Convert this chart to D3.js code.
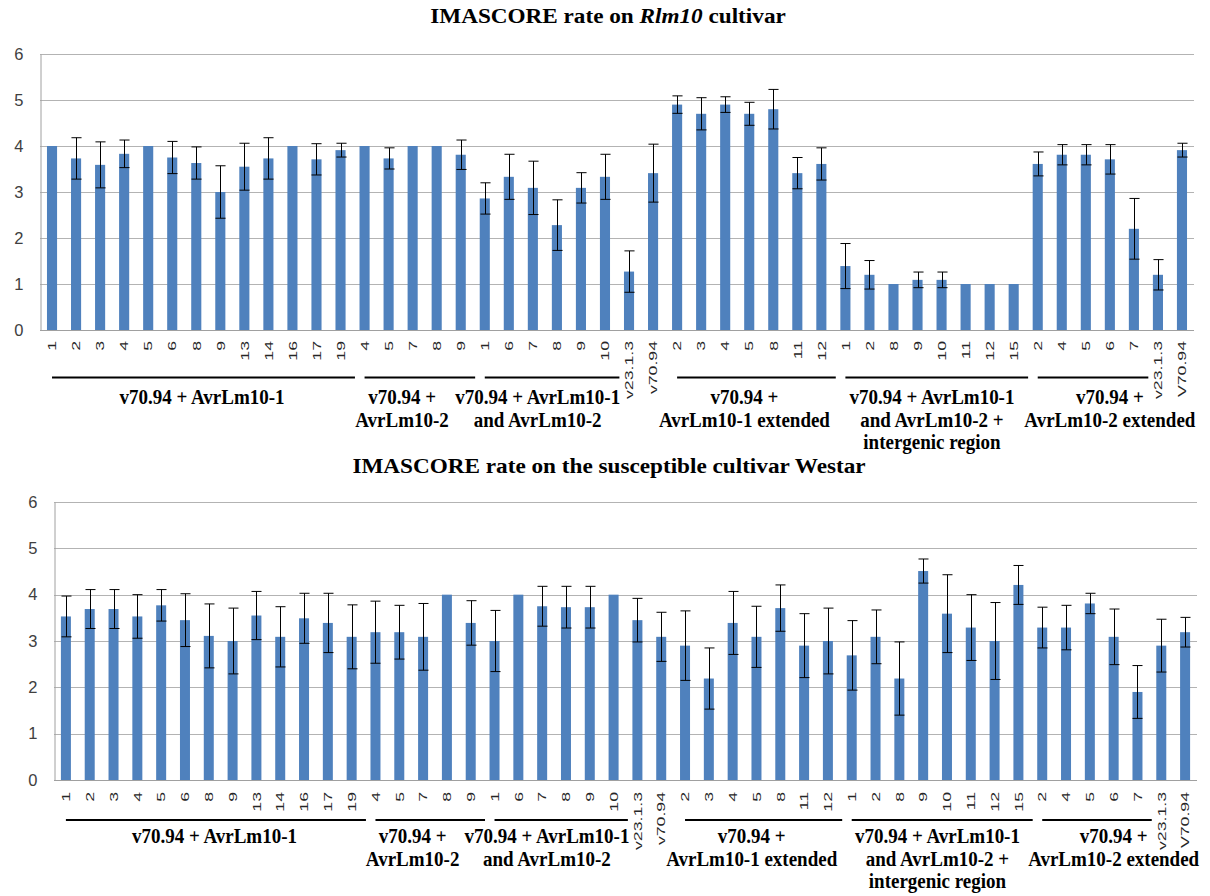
<!DOCTYPE html>
<html>
<head>
<meta charset="utf-8">
<script src="https://cdn.jsdelivr.net/npm/d3@7"></script>
<style>
  html, body { margin: 0; padding: 0; background: #fff; }
  svg { display: block; }
</style>
</head>
<body>
<svg id="chart" width="1210" height="896"></svg>
<script>
// ---------- DATA ----------
const categories = ["1","2","3","4","5","6","8","9","13","14","16","17","19",
  "4","5","7","8","9",
  "1","6","7","8","9","10",
  "v23.1.3","v70.94",
  "2","3","4","5","8","11","12",
  "1","2","8","9","10","11","12","15",
  "2","4","5","6","7",
  "v23.1.3","V70.94"];

const rlm10Values = [4.0,3.73,3.59,3.83,4.0,3.75,3.63,3.0,3.55,3.73,4.0,3.71,3.91,
  4.0,3.73,4.0,4.0,3.81,
  2.86,3.33,3.09,2.28,3.09,3.33,
  1.27,3.41,
  4.9,4.7,4.9,4.7,4.8,3.41,3.61,
  1.39,1.2,1.0,1.09,1.09,1.0,1.0,1.0,
  3.61,3.81,3.81,3.71,2.2,
  1.2,3.91];
const rlm10Errors = [0,0.45,0.5,0.3,0,0.35,0.35,0.57,0.51,0.45,0,0.34,0.15,
  0,0.23,0,0,0.32,
  0.34,0.49,0.58,0.55,0.33,0.49,
  0.45,0.63,
  0.19,0.35,0.17,0.25,0.43,0.34,0.35,
  0.49,0.31,0,0.17,0.17,0,0,0,
  0.26,0.22,0.22,0.32,0.66,
  0.33,0.15];

const westarValues = [3.53,3.69,3.69,3.53,3.77,3.45,3.11,3.0,3.55,3.09,3.49,3.39,3.09,
  3.19,3.19,3.09,4.0,3.39,
  3.0,4.0,3.75,3.73,3.73,4.0,
  3.45,3.09,
  2.9,2.19,3.39,3.09,3.71,2.9,3.0,
  2.69,3.09,2.19,4.51,3.59,3.29,3.0,4.21,
  3.29,3.29,3.81,3.09,1.9,
  2.9,3.19];
const westarErrors = [0.44,0.42,0.42,0.47,0.34,0.57,0.69,0.71,0.52,0.65,0.54,0.64,0.69,
  0.67,0.58,0.72,0,0.48,
  0.66,0,0.43,0.45,0.45,0,
  0.47,0.53,
  0.75,0.66,0.68,0.66,0.5,0.69,0.71,
  0.75,0.58,0.79,0.26,0.84,0.71,0.83,0.42,
  0.44,0.48,0.22,0.6,0.57,
  0.57,0.32];

const yTicks = [0,1,2,3,4,5,6];

const groupLabels = [
  ["v70.94 + AvrLm10-1"],
  ["v70.94 +", "AvrLm10-2"],
  ["v70.94 + AvrLm10-1", "and AvrLm10-2"],
  ["v70.94 +", "AvrLm10-1 extended"],
  ["v70.94 + AvrLm10-1", "and AvrLm10-2 +", "intergenic region"],
  ["v70.94 +", "AvrLm10-2 extended"]
];
const groupFirst = [0, 13, 18, 26, 33, 41];
const groupLast  = [12, 17, 23, 32, 40, 45];
// label centre, in category units from the left edge of the plot
const groupLabelPos = [6.74, 15.06, 20.7, 29.3, 37.1, 44.5];

// ---------- DRAW ----------
const svg = d3.select("#chart");
svg.append("rect").attr("width",1210).attr("height",896).attr("fill","#fff");

const SERIF = "'Liberation Serif', 'Times New Roman', serif";
const SANS = "'Liberation Sans', Arial, sans-serif";

function drawChart(cfg) {
  const g = svg.append("g");
  const x = d3.scaleBand().domain(d3.range(categories.length))
      .range([cfg.left, cfg.right]).paddingInner(0.58).paddingOuter(0.29);
  const bw = (cfg.right - cfg.left) / categories.length;
  const y = d3.scaleLinear().domain([0, 6]).range([cfg.bottom, cfg.top]);
  const xPos = v => cfg.left + v * bw;

  // gridlines
  g.append("g").selectAll("line").data(yTicks.filter(d => d > 0)).join("line")
    .attr("x1", cfg.left).attr("x2", cfg.right)
    .attr("y1", d => Math.round(y(d)) + 0.5).attr("y2", d => Math.round(y(d)) + 0.5)
    .attr("stroke", "#b3b3b3").attr("stroke-width", 1);

  // y axis
  const yAxis = d3.axisLeft(y).tickValues(yTicks).tickFormat(d3.format("d")).tickSize(0).tickPadding(17);
  const ya = g.append("g").attr("transform", `translate(${cfg.left + 0.5},0)`).call(yAxis);
  ya.select(".domain").attr("stroke", "#a0a0a0");
  ya.selectAll("text").attr("font-family", SANS).attr("font-size", 16.5).attr("fill", "#404040");

  // bars
  g.append("g").selectAll("rect").data(cfg.values).join("rect")
    .attr("x", (d, i) => x(i)).attr("width", x.bandwidth())
    .attr("y", d => y(d)).attr("height", d => y(0) - y(d))
    .attr("fill", "#4F81BD");

  // error bars
  const eb = g.append("g").attr("stroke", "#000").attr("stroke-width", 1);
  cfg.values.forEach((v, i) => {
    const e = cfg.errors[i];
    if (!e) return;
    const cx = Math.round(x(i) + x.bandwidth() / 2) + 0.5;
    const hw = x.bandwidth() / 2;
    eb.append("line").attr("x1", cx).attr("x2", cx).attr("y1", y(v + e)).attr("y2", y(v - e));
    eb.append("line").attr("x1", cx - hw).attr("x2", cx + hw).attr("y1", y(v + e)).attr("y2", y(v + e));
    eb.append("line").attr("x1", cx - hw).attr("x2", cx + hw).attr("y1", y(v - e)).attr("y2", y(v - e));
  });

  // x axis baseline
  g.append("line").attr("x1", cfg.left).attr("x2", cfg.right)
    .attr("y1", Math.round(y(0)) + 0.5).attr("y2", Math.round(y(0)) + 0.5)
    .attr("stroke", "#a0a0a0");

  // category labels (rotated)
  g.append("g").selectAll("text").data(categories).join("text")
    .attr("transform", (d, i) => `translate(${x(i) + x.bandwidth() / 2},${cfg.bottom + cfg.tickGap}) rotate(-90) scale(1.5,1)`)
    .attr("text-anchor", "end").attr("dy", "0.36em")
    .attr("font-family", SANS).attr("font-size", 11.8).attr("fill", "#262626")
    .text(d => d);

  // group lines
  g.append("g").selectAll("line").data(groupFirst).join("line")
    .attr("x1", (d, i) => xPos(d + 0.5)).attr("x2", (d, i) => xPos(groupLast[i] + 1.1))
    .attr("y1", cfg.groupLineY).attr("y2", cfg.groupLineY)
    .attr("stroke", "#000").attr("stroke-width", 2);

  // group labels
  groupLabels.forEach((lines, gi) => {
    lines.forEach((ln, li) => {
      const cx = xPos(groupLabelPos[gi]);
      const by = cfg.groupLabelY + li * 22.5;
      g.append("text")
        .attr("transform", `translate(${cx},${by}) scale(1,1.14)`)
        .attr("text-anchor", "middle")
        .attr("font-family", SERIF).attr("font-weight", "bold").attr("font-size", 19)
        .attr("fill", "#000").text(ln);
    });
  });

  // title
  const t = g.append("text")
    .attr("transform", `translate(${cfg.titleX},${cfg.titleY}) scale(1.19,1.12)`)
    .attr("text-anchor", "middle")
    .attr("font-family", SERIF).attr("font-weight", "bold").attr("font-size", 19.5);
  cfg.title.forEach(p => t.append("tspan").attr("font-style", p.italic ? "italic" : "normal").text(p.text));
}

drawChart({
  left: 40, right: 1194, top: 54, bottom: 330,
  values: rlm10Values, errors: rlm10Errors,
  tickGap: 11, groupLineY: 377.5, groupLabelY: 404,
  titleX: 608, titleY: 23,
  title: [{text: "IMASCORE rate on "}, {text: "Rlm10", italic: true}, {text: " cultivar"}]
});

drawChart({
  left: 54, right: 1197, top: 502, bottom: 780,
  values: westarValues, errors: westarErrors,
  tickGap: 12, groupLineY: 820, groupLabelY: 843,
  titleX: 609, titleY: 473,
  title: [{text: "IMASCORE rate on the susceptible cultivar Westar"}]
});
</script>
</body>
</html>
